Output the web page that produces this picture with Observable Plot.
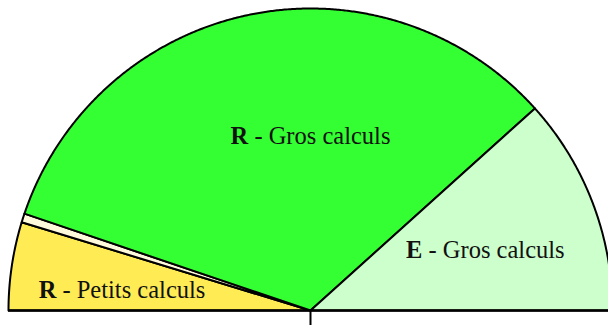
<!DOCTYPE html>
<html>
<head>
<meta charset="utf-8">
<script src="https://cdn.jsdelivr.net/npm/d3@7"></script>
<script src="https://cdn.jsdelivr.net/npm/@observablehq/plot@0.6"></script>
<style>
  html, body { margin: 0; padding: 0; background: #fff; overflow: hidden; }
  svg { overflow: hidden; }
  svg text { font-family: "Liberation Serif", "Times New Roman", serif !important; }
</style>
</head>
<body>
<div id="chart"></div>
<script>
// Slices, from the left end of the half circle going clockwise
const letters = ["R", "", "R", "E"];
const labels = [" - Petits calculs", "", " - Gros calculs", " - Gros calculs"];
const values = [17, 1.7, 119.3, 42];          // share of the half circle
const colors = ["#ffec55", "#fffadc", "#33ff33", "#ccffcc"];
// label anchors (angle in degrees from the right end, radius as fraction)
const labelAngle = [173.7, 0, 90, 18.9];
const labelRadius = [0.628, 0, 0.576, 0.612];

const total = d3.sum(values);
let acc = 0;
const slices = values.map((v, i) => {
  const a0 = Math.PI - (acc / total) * Math.PI;
  acc += v;
  const a1 = Math.PI - (acc / total) * Math.PI;
  const n = Math.max(4, Math.ceil(Math.abs(a0 - a1) / 0.005));
  const pts = [{x: 0, y: 0}];
  for (let k = 0; k <= n; k++) {
    const a = a0 + (a1 - a0) * k / n;
    pts.push({x: Math.cos(a), y: Math.sin(a)});
  }
  return {pts, color: colors[i]};
});

const labelData = letters.map((l, i) => ({
  letter: l, rest: labels[i],
  x: labelRadius[i] * Math.cos(labelAngle[i] * Math.PI / 180),
  y: labelRadius[i] * Math.sin(labelAngle[i] * Math.PI / 180)
})).filter(d => d.letter);

const chart = Plot.plot({
  width: 608,
  height: 325,
  x: {domain: [-1, 1], range: [8, 612], axis: null},
  y: {domain: [0, 1], range: [310, 8], axis: null},
  style: {fontFamily: "'Liberation Serif', serif"},
  marks: [
    ...slices.map(s => Plot.line(s.pts, {
      x: "x", y: "y", curve: "linear-closed",
      fill: s.color, stroke: "black", strokeWidth: 2, strokeLinejoin: "round"
    })),
    Plot.ruleY([0], {x1: -1, x2: 1, stroke: "black", strokeWidth: 2.5}),
    Plot.ruleX([0], {y1: 0, y2: -0.05, stroke: "black", strokeWidth: 2}),
    Plot.text(labelData, {
      x: "x", y: "y", text: d => d.letter + d.rest,
      fontSize: 24.5, fontFamily: "Liberation Serif", fill: "#111", textAnchor: "middle",
      render(index, scales, values, dims, context, next) {
        const g = next(index, scales, values, dims, context);
        d3.select(g).selectAll("text").each(function(i) {
          const d = labelData[i];
          const t = d3.select(this);
          t.text("");
          t.append("tspan").attr("font-weight", "bold").text(d.letter);
          t.append("tspan").text(d.rest);
        });
        return g;
      }
    })
  ]
});
document.getElementById("chart").appendChild(chart);
</script>
</body>
</html>
